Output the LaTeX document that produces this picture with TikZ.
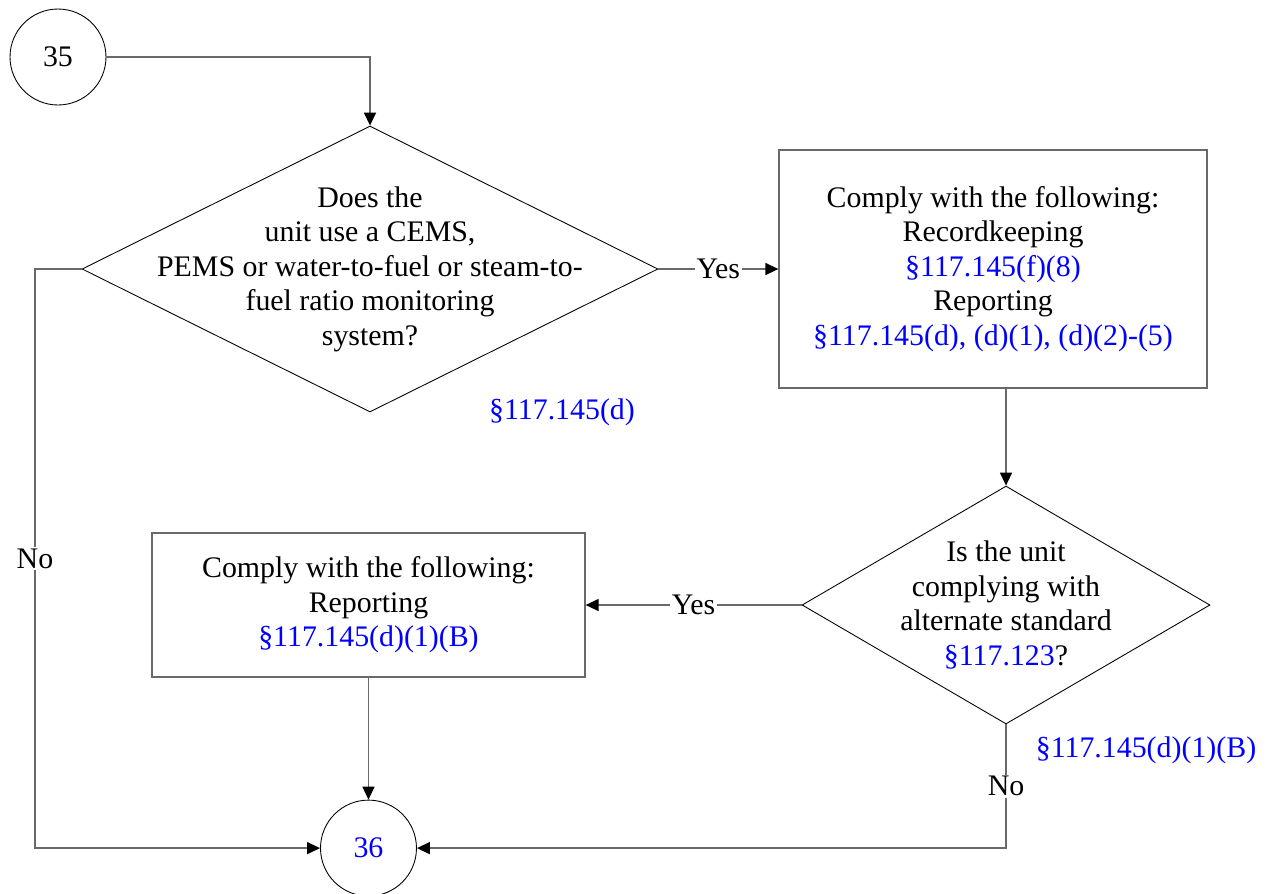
\documentclass[tikz,border=0pt]{standalone}
\usepackage{fontspec}
\setmainfont{Liberation Serif}
\usetikzlibrary{shapes.geometric,positioning,arrows.meta}
\definecolor{refblue}{RGB}{0,0,255}
\definecolor{linegray}{RGB}{105,105,105}
\newcommand{\regref}[1]{\textcolor{refblue}{#1}}

\begin{document}
\begin{tikzpicture}[x=0.02cm, y=-0.02cm,
  every node/.style={font=\fontsize{17}{19.6}\selectfont, align=center},
  connector/.style={circle, draw=black, line width=0.5pt, minimum size=1.92cm, inner sep=0pt},
  decision/.style={diamond, draw=black, line width=0.5pt, inner sep=0pt},
  action/.style={rectangle, draw=linegray, line width=0.8pt, inner sep=0pt},
  flow/.style={draw=linegray, line width=0.8pt, -{Triangle[length=0.26cm, width=0.24cm, color=black]}},
  answer/.style={fill=white, inner sep=1pt}]

\useasboundingbox (0,0) rectangle (1267,893);

% CONNECTORS AND SHAPES

\node [connector] (c35) at (58,57) {35};

\node [decision, minimum width=11.52cm, minimum height=5.72cm] (d1) at (370,269) {};
\node (d1-text) at (d1.center)
{Does the\\
unit use a CEMS,\\
PEMS or water-to-fuel or steam-to-\\
fuel ratio monitoring\\
system?};

\node [action, minimum width=8.56cm, minimum height=4.76cm, right=2.4cm of d1] (box1)
{Comply with the following:\\
Recordkeeping\\
\regref{§117.145(f)(8)}\\
Reporting\\
\regref{§117.145(d), (d)(1), (d)(2)-(5)}};

\node [decision, minimum width=8.16cm, minimum height=4.76cm] (d2) at (1006,605) {};
\node (d2-text) at (d2.center)
{Is the unit\\
complying with\\
alternate standard\\
\regref{§117.123}?};

\node [action, minimum width=8.66cm, minimum height=2.88cm, left=4.32cm of d2] (box2)
{Comply with the following:\\
Reporting\\
\regref{§117.145(d)(1)(B)}};

\node [connector, below=2.44cm of box2, text=refblue] (c36) {36};

% CITATIONS

\node [text=refblue] (d1-cite) at (562,412) {§117.145(d)};
\node [text=refblue] (d2-cite) at (1146,750) {§117.145(d)(1)(B)};

% ARROWS

\coordinate (leftbus) at (35,269);

\draw [flow] (c35.east) -| (d1.north);
\draw [flow] (d1.east) -- node[answer] {Yes} (box1.west);
\draw [flow] (d2.north |- box1.south) -- (d2.north);
\draw [flow] (d2.west) -- node[answer] {Yes} (box2.east);
\draw [flow] (box2.south) -- (c36.north);
\draw [flow] (d1.west) -- (leftbus) |- node[answer, pos=0.25] {No} (c36.west);
\draw [flow] (d2.south) |- node[answer, pos=0.25] {No} (c36.east);

\end{tikzpicture}
\end{document}
